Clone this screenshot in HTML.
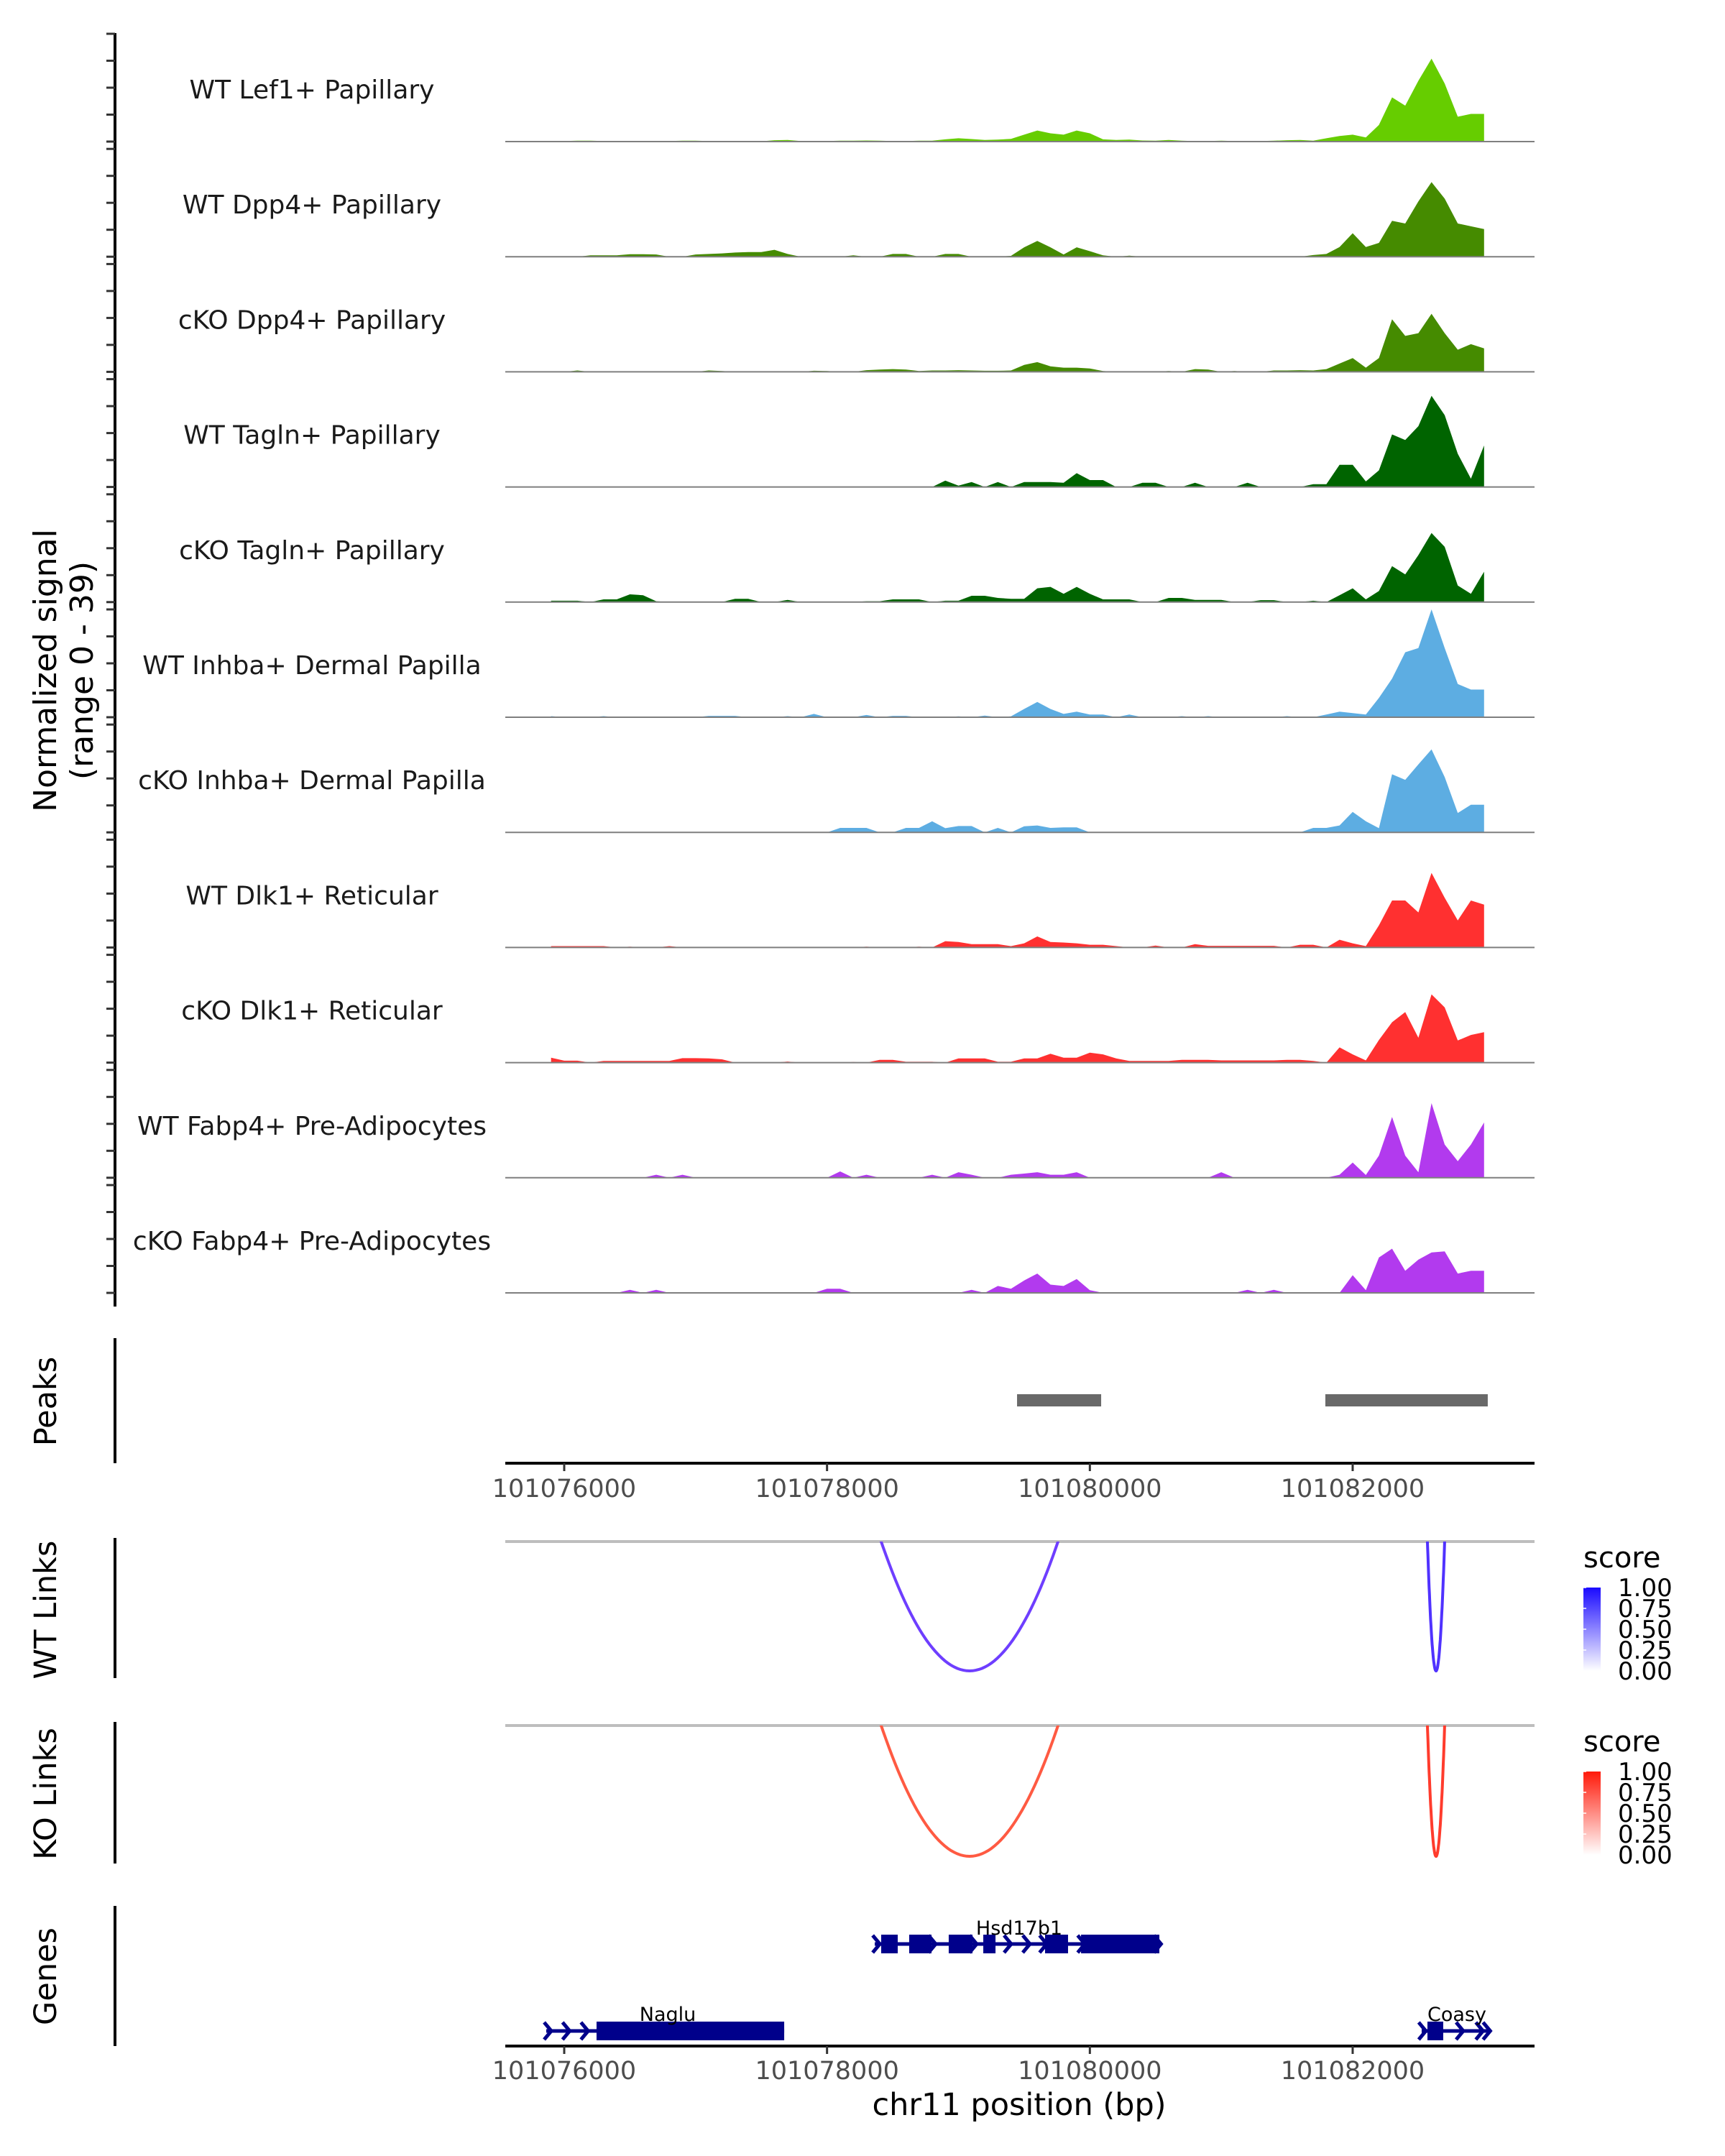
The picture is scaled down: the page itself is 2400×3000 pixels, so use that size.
<!DOCTYPE html>
<html><head><meta charset="utf-8">
<style>
html,body{margin:0;padding:0;background:#fff;}
svg{display:block;}
text{font-family:"DejaVu Sans","Liberation Sans",sans-serif;}
</style></head>
<body>
<svg id="chart" width="2400" height="3000" viewBox="0 0 2400 3000" xmlns="http://www.w3.org/2000/svg">
<defs>
<linearGradient id="gradBlue" x1="0" y1="1" x2="0" y2="0"><stop offset="0" stop-color="#ffffff"/><stop offset="1" stop-color="#1a0aff"/></linearGradient>
<linearGradient id="gradRed" x1="0" y1="1" x2="0" y2="0"><stop offset="0" stop-color="#ffffff"/><stop offset="1" stop-color="#ff1a0a"/></linearGradient>
<clipPath id="clipWT"><rect x="700" y="2145" width="1440" height="200"/></clipPath>
<clipPath id="clipKO"><rect x="700" y="2401" width="1440" height="200"/></clipPath>
</defs>
<g id="tracks"></g>
<g id="peaks"></g>
<g id="links"></g>
<g id="genes"></g>
<text transform="translate(78,933) rotate(-90)" text-anchor="middle" font-size="44" fill="#000">Normalized signal</text>
<text transform="translate(129,933) rotate(-90)" text-anchor="middle" font-size="44" fill="#000">(range 0 - 39)</text>
<text transform="translate(78,1950) rotate(-90)" text-anchor="middle" font-size="43" fill="#000">Peaks</text>
<text transform="translate(78,2240) rotate(-90)" text-anchor="middle" font-size="43" fill="#000">WT Links</text>
<text transform="translate(78,2496) rotate(-90)" text-anchor="middle" font-size="43" fill="#000">KO Links</text>
<text transform="translate(78,2750) rotate(-90)" text-anchor="middle" font-size="43" fill="#000">Genes</text>
<text x="1418" y="2943" text-anchor="middle" font-size="43" fill="#000">chr11 position (bp)</text>
</svg>
<script>
const NS="http://www.w3.org/2000/svg";
const trackNames=["WT Lef1+ Papillary","WT Dpp4+ Papillary","cKO Dpp4+ Papillary","WT Tagln+ Papillary","cKO Tagln+ Papillary","WT Inhba+ Dermal Papilla","cKO Inhba+ Dermal Papilla","WT Dlk1+ Reticular","cKO Dlk1+ Reticular","WT Fabp4+ Pre-Adipocytes","cKO Fabp4+ Pre-Adipocytes"];
const trackColors=["#66cd00","#458b00","#458b00","#006400","#006400","#5dade2","#5dade2","#ff3030","#ff3030","#b23aee","#b23aee"];
const binStart=101075900;
const binSize=100;
const sigLef1=[0,0.2,0.3,0.3,0.2,0,0,0,0,0.2,0.3,0.3,0.2,0.1,0.1,0.1,0.1,0.5,0.6,0.2,0.1,0.2,0.3,0.3,0.4,0.3,0.2,0.2,0.3,0.3,0.8,1.2,0.9,0.6,0.7,1.0,2.5,4.0,3.0,2.5,4.0,3.0,0.8,0.6,0.7,0.4,0.3,0.6,0.3,0.2,0.2,0.3,0.2,0.2,0.2,0.3,0.5,0.6,0.3,1.2,2.0,2.5,1.5,6,16,13,22,30,21,9,10,10];
const sigDpp4WT=[0,0,0,0.5,0.5,0.5,0.9,0.9,0.8,0,0,0.8,1.0,1.2,1.5,1.7,1.7,2.5,1.0,0,0,0,0,0.5,0,0,1.0,1.0,0,0,1.0,1.0,0,0,0,0.3,3.4,5.7,3.4,0.8,3.4,2.0,0.5,0,0.4,0,0,0,0,0,0,0,0,0,0,0,0,0,0.6,1.0,3.5,8.5,3.5,5,13,12,20,27,21,12,11,10];
const sigDpp4KO=[0,0,0.5,0,0,0,0,0,0,0,0,0,0.5,0.3,0,0,0,0,0,0,0.4,0.3,0,0,0.6,0.8,1.0,0.8,0.3,0.5,0.5,0.6,0.5,0.4,0.4,0.5,2.5,3.5,2.0,1.5,1.5,1.2,0.3,0,0,0,0,0.3,0,1.0,0.8,0,0.3,0,0,0.5,0.5,0.6,0.5,1.0,3,5,1.5,5,19,13,14,21,14,8,10,8.5];
const sigTaglnWT=[0,0,0,0,0,0,0,0,0,0,0,0,0,0,0,0,0,0,0,0,0,0,0,0,0,0,0,0,0,0,2.3,0.5,1.8,0,1.8,0,1.8,1.8,1.8,1.5,5,2.5,2.5,0,0,1.5,1.5,0,0,1.5,0,0,0,1.5,0,0,0,0,1,1,8,8,2,6,19,17,22,33,26,12,3,15];
const sigTaglnKO=[0.5,0.5,0.5,0,1,1,2.8,2.5,0.3,0,0,0,0,0,1.2,1.2,0,0,0.8,0,0,0,0,0,0.3,0.3,1,1,1,0,0.5,0.5,2.3,2.3,1.5,1.2,1.2,5,5.5,3,5.5,3,1,1,1,0,0,1.5,1.5,0.8,0.8,0.8,0,0,0.7,0.7,0,0,0.5,0,2.5,5,1,4,13,10,17,25,20,6,3,11];
const sigInhbaWT=[0.4,0,0,0,0.4,0,0,0,0,0,0,0,0.5,0.5,0.5,0,0,0,0.4,0,1.2,0,0,0,0.8,0,0.5,0.5,0,0,0,0.3,0,0.6,0,0.3,3,5.5,3,1.2,2,1,1,0,1,0,0,0,0.4,0,0.4,0,0,0,0,0,0.4,0,0,1,2,1.5,1,7,14,23.5,25,39,25,12,10,10];
const sigInhbaKO=[0,0,0,0,0,0,0,0,0,0,0,0,0,0,0,0,0,0,0,0,0,0,1.6,1.6,1.6,0,0,1.6,1.6,4,1.5,2.3,2.3,0,1.6,0,2.2,2.5,1.6,1.8,1.8,0,0,0,0,0,0,0,0,0,0,0,0,0,0,0,0,0,1.6,1.6,2.5,7.4,4,1.5,21,19,24.6,30,20,7,10,10];
const sigDlk1WT=[0.5,0.5,0.5,0.5,0.5,0,0.3,0,0,0.5,0,0,0,0,0,0,0,0,0,0,0,0,0,0,0.3,0,0,0,0.3,0,2.3,2,1.2,1.2,1.2,0.5,1.5,4,2,1.8,1.5,1,1,0.5,0,0,0.7,0,0,1.2,0.6,0.6,0.6,0.6,0.6,0.6,0,1,1,0,2.8,1.5,0.5,8,17,17,12.7,27,18,9.8,17,15.5];
const sigDlk1KO=[1.8,0.7,0.7,0,0.6,0.6,0.6,0.6,0.6,0.6,1.6,1.6,1.5,1.2,0,0,0,0,0.4,0,0,0,0,0.2,0,1,1,0.3,0.3,0.3,0,1.5,1.5,1.5,0.3,0.3,1.5,1.5,3.2,1.8,1.8,3.6,3,1.5,0.6,0.6,0.6,0.6,1,1,1,0.8,0.8,0.8,0.8,0.8,1,1,0.6,0,5.5,3,0.8,8.2,14.6,18.3,9,24.7,20,8,10,11];
const sigFabp4WT=[0,0,0,0,0,0,0,0,1.1,0,1.1,0,0,0,0,0,0,0,0,0,0,0,2.3,0,1.1,0,0,0,0,1.1,0,2,1.1,0,0,1.1,1.5,2,1.1,1.1,2,0,0,0,0,0,0,0,0,0,0,2,0,0,0,0,0,0,0,0,1.1,5.5,1,8,22,8,2,27,12,6,12,20];
const sigFabp4KO=[0,0,0,0,0,0,1.1,0,1.1,0,0,0,0,0,0,0,0,0,0,0,0,1.5,1.5,0,0,0,0,0,0,0,0,0,1.1,0,2.5,1.5,4.5,7,3,2.5,5,1,0,0,0,0,0,0,0,0,0,0,0,1.1,0,1.1,0,0,0,0,0,6.4,1,12.8,16,8,12,14.6,15,7,8,8];
const signals=[sigLef1,sigDpp4WT,sigDpp4KO,sigTaglnWT,sigTaglnKO,sigInhbaWT,sigInhbaKO,sigDlk1WT,sigDlk1KO,sigFabp4WT,sigFabp4KO];
const xTicks=[101076000,101078000,101080000,101082000];
const xTickLabels=["101076000","101078000","101080000","101082000"];
const peakStarts=[101079446,101081792];
const peakEnds=[101080086,101083028];
const wtLinkStarts=[101078412,101082569];
const wtLinkEnds=[101079758,101082700];
const wtLinkScores=[0.7,0.85];
const koLinkStarts=[101078412,101082569];
const koLinkEnds=[101079758,101082700];
const koLinkScores=[0.7,0.85];
const scoreTicks=[1.00,0.75,0.50,0.25,0.00];
const scoreTickLabels=["1.00","0.75","0.50","0.25","0.00"];

const X0=785, PXBP=0.18283, YMAX=39, TRH=150;
function xs(bp){return X0+(bp-101076000)*PXBP;}
function baseY(i){return 197+160.2*i;}
function ys(i,v){return baseY(i)-v/YMAX*TRH;}
function mk(tag,attrs,parent){const e=document.createElementNS(NS,tag);for(const k in attrs)e.setAttribute(k,attrs[k]);parent.appendChild(e);return e;}

const gT=document.getElementById('tracks');
let ax=mk('line',{x1:160,y1:46,x2:160,y2:1818,stroke:'#000','stroke-width':4},gT);


for(let i=0;i<trackNames.length;i++){
  for(let j=0;j<5;j++){
    const ty=baseY(i)-j*37.5;
    const t=mk('line',{x1:148,y1:ty,x2:160,y2:ty,stroke:'#333','stroke-width':3},gT);
    
    
  }
  const lab=mk('text',{x:434,y:baseY(i)-60,'text-anchor':'middle','font-size':36,fill:'#1a1a1a'},gT);
  lab.textContent=trackNames[i];
  
  
  const sig=signals[i];
  let d='M'+xs(binStart).toFixed(1)+','+baseY(i).toFixed(1);
  for(let k=0;k<sig.length;k++){d+=' L'+xs(binStart+k*binSize).toFixed(1)+','+ys(i,sig[k]).toFixed(1);}
  d+=' L'+xs(binStart+(sig.length-1)*binSize).toFixed(1)+','+baseY(i).toFixed(1)+' Z';
  const p=mk('path',{d:d,fill:trackColors[i],stroke:'none'},gT);
  
  
  const bl=mk('line',{x1:703,y1:baseY(i),x2:2135,y2:baseY(i),stroke:'#7f7f7f','stroke-width':2},gT);
  
  
}

const gP=document.getElementById('peaks');
let pax=mk('line',{x1:160,y1:1862,x2:160,y2:2036,stroke:'#000','stroke-width':4},gP);


for(let i=0;i<peakStarts.length;i++){
  const r=mk('rect',{x:xs(peakStarts[i]),y:1940,width:xs(peakEnds[i])-xs(peakStarts[i]),height:17,fill:'#696969'},gP);
  
  
}
function xAxis(y,parent,labY){
  const l=mk('line',{x1:703,y1:y,x2:2135,y2:y,stroke:'#000','stroke-width':4},parent);
  
  
  for(let i=0;i<xTicks.length;i++){
    const tx=xs(xTicks[i]);
    const t=mk('line',{x1:tx,y1:y,x2:tx,y2:y+11,stroke:'#333','stroke-width':3},parent);
    
    
    const tl=mk('text',{x:tx,y:labY,'text-anchor':'middle','font-size':35,fill:'#4d4d4d'},parent);
    tl.textContent=xTickLabels[i];
    
    
  }
}
xAxis(2036,gP,2083);

const gL=document.getElementById('links');
function linkPanel(top,bottom,starts,ends,scores,color1,grad,clip,legY,nm){
  const a=mk('line',{x1:160,y1:top-5,x2:160,y2:bottom+10,stroke:'#000','stroke-width':4},gL);
  
  
  const g=mk('line',{x1:703,y1:top,x2:2135,y2:top,stroke:'#bebebe','stroke-width':4},gL);
  
  
  const cg=mk('g',{'clip-path':'url(#'+clip+')'},gL);
  for(let i=0;i<starts.length;i++){
    const x1=xs(starts[i]),x2=xs(ends[i]),depth=bottom-top;
    const cx=(x1+x2)/2,hw=(x2-x1)/2;
    let d='';
    for(let s=0;s<=60;s++){const u=-1.05+2.1*s/60;const x=cx+u*hw;const y=top+depth*(1-u*u);d+=(s?' L':'M')+x.toFixed(1)+','+y.toFixed(1);}
    const p=mk('path',{d:d,fill:'none',stroke:color1[i],'stroke-width':4},cg);
    
    
  }
  const st=mk('text',{x:2203,y:legY,'font-size':40,fill:'#000'},gL);
  st.textContent='score';
  
  
  const barTop=legY+28,barBot=legY+144;
  const bar=mk('rect',{x:2203,y:barTop,width:24,height:barBot-barTop,fill:'url(#'+grad+')'},gL);
  
  
  for(let i=0;i<scoreTicks.length;i++){
    const ty=barBot-(barBot-barTop)*scoreTicks[i];
    const tk=mk('line',{x1:2203,y1:ty,x2:2207,y2:ty,stroke:'#fff','stroke-width':1.5},gL);
    
    
    const tl=mk('text',{x:2251,y:ty+12,'font-size':34,fill:'#000'},gL);
    tl.textContent=scoreTickLabels[i];
    
    
  }
}
function blueCol(s){return 'rgb('+Math.round(130-100*(s-0.6)*2)+','+Math.round(70-40*(s-0.6)*2)+',255)';}
function redCol(s){return 'rgb(255,'+Math.round(110-100*(s-0.6)*2)+','+Math.round(80-70*(s-0.6)*2)+')';}
linkPanel(2145,2325,wtLinkStarts,wtLinkEnds,wtLinkScores,wtLinkScores.map(blueCol),'gradBlue','clipWT',2181,'wt-links');
linkPanel(2401,2583,koLinkStarts,koLinkEnds,koLinkScores,koLinkScores.map(redCol),'gradRed','clipKO',2437,'ko-links');

const gG=document.getElementById('genes');
const GC='#00008b';
let gax=mk('line',{x1:160,y1:2652,x2:160,y2:2847,stroke:'#000','stroke-width':4},gG);


const geneNames=["Hsd17b1","Naglu","Coasy"];
const geneStarts=[101078363,101075863,101082525];
const geneEnds=[101080529,101077674,101083034];
const geneRows=[2705,2826,2826];
const exonStarts=[[101078412,101078625,101078926,101079189,101079659,101079933],[101076246],[101082569]];
const exonEnds=[[101078538,101078795,101079107,101079282,101079834,101080529],[101077674],[101082689]];
const chevrons=[[101078380,101078805,101079117,101079380,101079522,101079650,101079940,101080520],[101075880,101076020,101076160],[101082535,101082820,101082970,101083025]];
const geneLabelX=[1418,929,2027];
const geneLabelY=[2692,2812,2812];
for(let g=0;g<geneNames.length;g++){
  const y=geneRows[g];
  const l=mk('line',{x1:xs(geneStarts[g]),y1:y,x2:xs(geneEnds[g]),y2:y,stroke:GC,'stroke-width':5},gG);
  
  
  for(let e=0;e<exonStarts[g].length;e++){
    const r=mk('rect',{x:xs(exonStarts[g][e]),y:y-13,width:xs(exonEnds[g][e])-xs(exonStarts[g][e]),height:26,fill:GC},gG);
    
    
  }
  for(let c=0;c<chevrons[g].length;c++){
    const cx=xs(chevrons[g][c]);
    const p=mk('polyline',{points:(cx-6)+','+(y-12)+' '+(cx+4)+','+y+' '+(cx-6)+','+(y+12),fill:'none',stroke:GC,'stroke-width':5},gG);
    
    
  }
  const t=mk('text',{x:geneLabelX[g],y:geneLabelY[g],'text-anchor':'middle','font-size':27,fill:'#000'},gG);
  t.textContent=geneNames[g];
  
  
}
xAxis(2847,gG,2893);
</script>
</body></html>
